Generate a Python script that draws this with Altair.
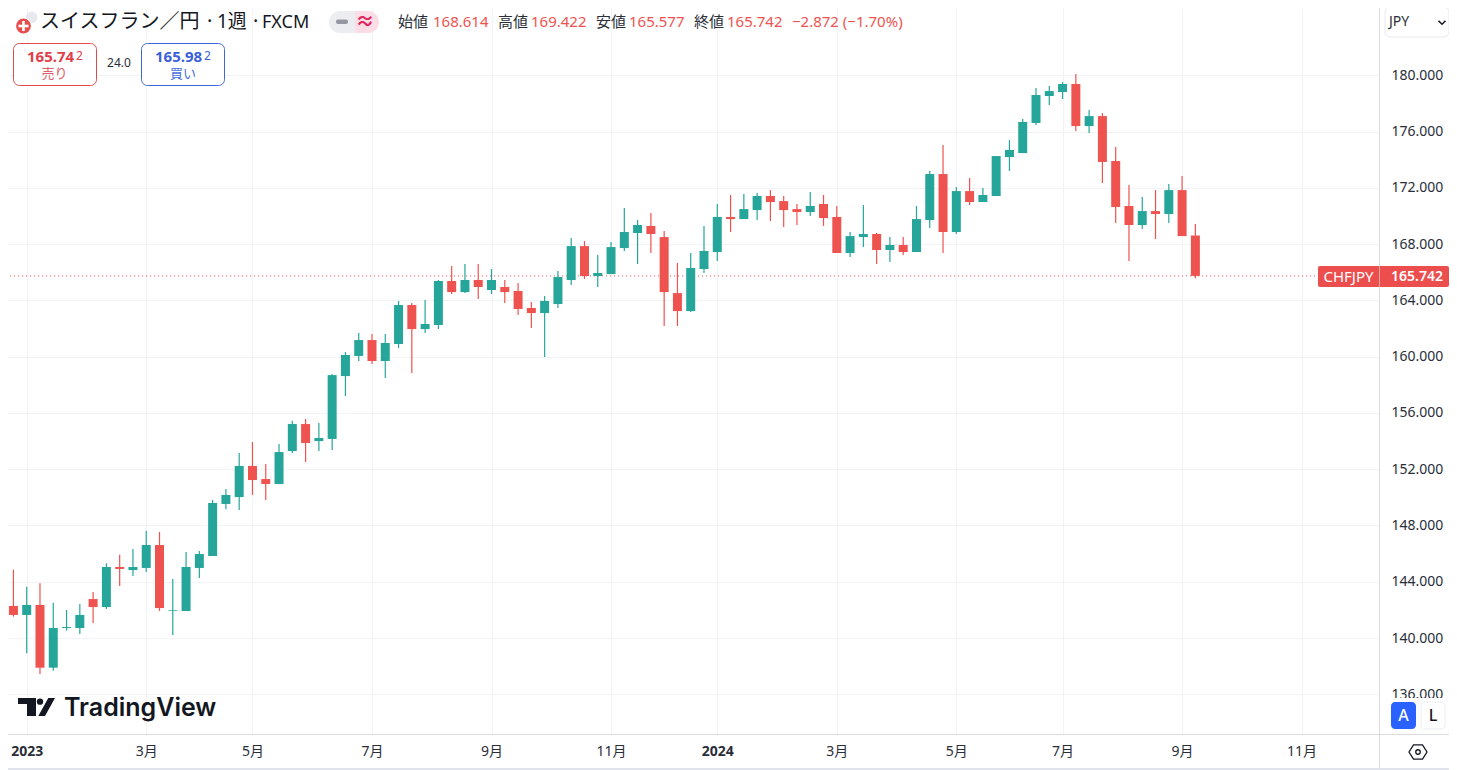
import altair as alt
import pandas as pd

opens = [145.55,142.28,141.64,142.35,137.89,140.71,140.71,142.77,142.20,145.05,144.83,144.98,146.61,141.94,141.92,144.98,145.83,149.53,150.02,152.23,151.30,150.95,153.29,155.21,154.00,154.15,158.62,160.05,161.18,159.69,160.90,163.67,161.96,162.25,165.38,164.59,165.45,164.74,164.95,164.67,163.46,163.10,163.74,165.45,167.86,165.73,165.87,167.72,168.79,169.29,168.50,164.52,163.24,166.23,167.44,169.93,169.78,170.42,171.42,171.06,170.49,170.28,170.85,169.93,167.37,168.50,168.72,167.58,167.94,167.44,169.71,172.98,168.86,171.77,170.99,171.42,174.19,174.47,176.61,178.53,178.81,179.38,176.39,177.10,173.91,170.71,169.36,170.35,170.14,171.84,168.614]
highs = [145.55,144.86,143.65,143.89,142.51,141.99,142.42,143.27,145.31,145.92,146.33,147.63,147.54,144.19,146.11,146.18,149.81,150.59,153.15,153.93,152.37,153.79,155.45,155.57,155.28,158.77,160.33,161.68,161.61,161.61,163.96,163.81,164.03,165.45,166.44,166.58,166.58,166.23,165.45,165.23,163.88,164.31,166.09,168.43,168.22,167.22,168.15,170.57,169.71,170.21,168.93,166.66,167.37,169.29,170.85,171.49,171.56,171.63,171.84,171.42,170.85,171.70,171.49,170.71,168.86,170.78,168.79,168.50,168.50,170.71,173.20,175.04,172.06,172.70,171.99,174.26,175.40,176.89,179.09,179.24,179.52,180.09,177.53,177.32,174.90,172.20,171.35,171.84,172.27,172.84,169.422]
lows = [142.20,141.52,138.91,137.44,137.68,140.52,140.28,141.07,142.06,143.70,144.41,144.69,141.92,140.21,141.92,144.27,145.83,149.15,149.10,150.17,149.81,150.95,153.15,152.51,153.29,153.36,157.20,159.69,159.48,158.48,160.61,158.84,161.68,161.96,164.45,164.52,164.10,164.45,163.81,162.96,162.04,159.97,163.46,165.09,165.52,164.95,165.87,167.51,166.58,167.37,162.18,162.18,163.17,165.95,166.80,168.86,169.78,169.71,169.64,169.21,169.36,170.00,169.29,167.37,167.08,167.79,166.58,166.73,167.22,167.44,169.14,167.37,168.72,170.78,170.99,171.42,173.20,174.47,176.46,177.89,178.31,176.04,175.90,172.34,169.50,166.80,169.07,168.36,169.50,168.57,165.577]
closes = [142.20,141.64,142.35,137.89,140.71,140.78,141.64,142.20,145.05,144.91,145.05,146.61,142.13,141.99,145.05,145.97,149.60,150.17,152.23,151.23,150.95,153.22,155.21,153.86,154.22,158.69,160.12,161.18,159.69,160.97,163.67,161.96,162.32,165.38,164.59,165.45,164.95,165.45,164.59,163.39,163.10,163.96,165.66,167.86,165.73,165.95,167.79,168.86,169.36,168.72,164.59,163.24,166.30,167.51,169.93,169.78,170.49,171.42,170.99,170.42,170.28,170.71,169.85,167.37,168.57,168.72,167.58,167.94,167.44,169.78,172.98,168.86,171.77,170.99,171.49,174.26,174.69,176.68,178.60,178.88,179.38,176.39,177.10,173.84,170.64,169.36,170.35,170.14,171.84,168.57,165.742]
dates = [d.strftime("%Y-%m-%dT00:00:00Z") for d in pd.date_range("2022-12-19", periods=len(opens), freq="7D")]
x_ticks = ["2023-01-02T00:00:00Z","2023-03-06T00:00:00Z","2023-05-01T00:00:00Z","2023-07-03T00:00:00Z","2023-09-04T00:00:00Z","2023-11-06T00:00:00Z","2024-01-01T00:00:00Z","2024-03-04T00:00:00Z","2024-05-06T00:00:00Z","2024-07-01T00:00:00Z","2024-09-02T00:00:00Z","2024-11-04T00:00:00Z"]
y_ticks = [136,140,144,148,152,156,160,164,168,172,176,180]

GREEN = "#26a69a"
RED = "#ef5350"
BLUE = "#2962ff"
GRID = "#f2f3f6"
LINE = "#d9dbe1"
INK = "#131722"
TXT = "#2a2e39"
FONT = "Noto Sans, Noto Sans CJK JP"
W, H = 1371, 726

df = pd.DataFrame({"date": dates, "open": opens, "high": highs, "low": lows, "close": closes})
df["dir"] = ["up" if c >= o else "down" for o, c in zip(opens, closes)]

xs = alt.Scale(type="utc", domain=["2022-12-23T03:22:00Z", "2024-12-14T19:00:00Z"], nice=False, padding=0)
ys = alt.Scale(domain=[133.177, 184.784], nice=False, zero=False)
cs = alt.Scale(domain=["up", "down"], range=[GREEN, RED])

x_axis = alt.Axis(
    values=x_ticks, title=None, orient="bottom", domain=False, ticks=False,
    grid=True, gridColor=GRID, gridWidth=1,
    labelExpr="utcmonth(datum.value)==0 ? utcyear(datum.value) : (utcmonth(datum.value)+1)+'月'",
    labelFont=FONT, labelFontSize=14, labelColor=TXT, labelPadding=10, labelAlign="center",
    labelFontWeight={"condition": {"test": "utcmonth(datum.value)==0", "value": 700}, "value": 400},
    labelOverlap=False, labelFlush=False,
)
y_axis = alt.Axis(
    values=y_ticks, title=None, orient="right", domain=False, ticks=False,
    grid=True, gridColor=GRID, gridWidth=1, format=".3f",
    labelFont=FONT, labelFontSize=14, labelColor=TXT, labelPadding=12,
    labelOverlap=False, labelFlush=False,
)

blank = alt.Data(values=[{}])

def px(x):
    return x - 8

def py(y):
    return y - 8

def text(s, x, y, size=14, color=TXT, align="left", weight=400, font=FONT):
    return alt.Chart(blank).mark_text(
        font=font, fontSize=size, color=color, align=align, baseline="middle", fontWeight=weight
    ).encode(x=alt.value(px(x)), y=alt.value(py(y)), text=alt.value(s))

def box(x0, x1, y0, y1, fill="white", stroke=None, radius=0, sw=1, **kw):
    args = dict(color=fill, cornerRadius=radius, strokeWidth=sw)
    if stroke:
        args["stroke"] = stroke
    args.update(kw)
    return alt.Chart(blank).mark_rect(**args).encode(
        x=alt.value(px(x0)), x2=alt.value(px(x1)), y=alt.value(py(y0)), y2=alt.value(py(y1))
    )

def sym(shape, x, y, size, fill=None, stroke=None, sw=1):
    args = dict(shape=shape, size=size, opacity=1)
    if fill:
        args.update(filled=True, fill=fill, strokeWidth=0)
    else:
        args.update(filled=False, stroke=stroke, strokeWidth=sw)
    return alt.Chart(blank).mark_point(**args).encode(x=alt.value(px(x)), y=alt.value(py(y)))

base = alt.Chart(df)
price_line = alt.Chart(alt.Data(values=[{"last": closes[-1]}])).mark_rule(
    color=RED, strokeDash=[1, 3], strokeWidth=1, clip=True
).encode(y=alt.Y("last:Q", scale=ys, axis=y_axis))

wicks = base.mark_rule(strokeWidth=1.2, clip=True).encode(
    x=alt.X("date:T", scale=xs, axis=x_axis),
    y=alt.Y("low:Q", scale=ys, axis=y_axis),
    y2="high:Q",
    color=alt.Color("dir:N", scale=cs, legend=None),
)
bodies = base.mark_bar(size=9, clip=True, strokeWidth=0).encode(
    x=alt.X("date:T", scale=xs, axis=x_axis),
    y=alt.Y("open:Q", scale=ys, axis=y_axis),
    y2="close:Q",
    color=alt.Color("dir:N", scale=cs, legend=None),
)

logo = "M-0.925,-0.45L-0.025,-0.45L-0.025,0.45L-0.475,0.45L-0.475,-0.15L-0.925,-0.15ZM0.59,-0.45L0.925,-0.45L0.425,0.45L0.09,0.45Z"
chevron = "M-1,-0.5L0,0.5L1,-0.5"
hexagon = "M-1,0L-0.5,-0.8L0.5,-0.8L1,0L0.5,0.8L-0.5,0.8Z"

chrome = [
    # frame
    box(1380, 1449, 698, 733),
    box(8, 1449, 768, 770, fill="#e0e3eb"),
    box(1379, 1380, 8, 768, fill=LINE),
    box(8, 1449, 734, 735, fill=LINE),
    # header icon
    sym("circle", 31.5, 17.5, 140, fill="#e8e9ee"),
    sym("circle", 23.5, 26, 300, fill="white"),
    sym("circle", 23.5, 26, 220, fill="#e5504f"),
    box(18.5, 28.5, 24.7, 27.3),
    box(22.2, 24.8, 21, 31),
    # title
    text("スイスフラン／円", 40, 22, 20, INK),
    text("·", 207, 22, 20, INK),
    text("1週", 217, 22, 19, INK),
    text("·", 253, 22, 20, INK),
    text("FXCM", 262, 23, 18, INK),
    # pill
    box(329, 355, 11, 33, fill="#ecedf1", cornerRadiusTopLeft=11, cornerRadiusBottomLeft=11, cornerRadius=0),
    box(355, 379, 11, 33, fill="#fbdde6", cornerRadiusTopRight=11, cornerRadiusBottomRight=11, cornerRadius=0),
    box(336, 348, 19.5, 24, fill="#9598a1", radius=2),
    text("≈", 365, 22, 19, "#e0245e", "center", 700),
    # OHLC
    text("始値", 398, 22, 15), text("168.614", 433, 22, 15, RED),
    text("高値", 498, 22, 15), text("169.422", 531, 22, 15, RED),
    text("安値", 596, 22, 15), text("165.577", 629, 22, 15, RED),
    text("終値", 694, 22, 15), text("165.742", 727, 22, 15, RED),
    text("−2.872 (−1.70%)", 792, 22, 15, RED),
    # order buttons
    box(13.5, 96.5, 43.5, 85.5, stroke="#e0494d", radius=6),
    text("165.74", 27, 57, 15, "#e0404a", "left", 700),
    text("2", 76, 55.5, 12, "#e0404a"),
    text("売り", 54.5, 74, 13, "#e0606a", "center"),
    text("24.0", 119, 63, 12, TXT, "center"),
    box(141.5, 224.5, 43.5, 85.5, stroke="#3f66d6", radius=6),
    text("165.98", 155, 57, 15, "#3a5fd9", "left", 700),
    text("2", 204, 55.5, 12, "#3a5fd9"),
    text("買い", 183, 74, 13, "#4a6fe0", "center"),
    # currency box
    box(1385, 1449, 7, 37, stroke="#e8e9ed", radius=5),
    text("JPY", 1389, 22, 14, TXT),
    sym(chevron, 1442, 22.5, 49, stroke=INK, sw=1.5),
    # last price tag
    box(1318, 1449, 266, 287, fill="#ec4e4e", radius=2),
    box(1379, 1380, 266, 287, fill="#f4a7a4"),
    text("CHFJPY", 1348.5, 276.5, 15, "white", "center"),
    text("165.742", 1417, 276.5, 14, "white", "center", 600),
    # watermark
    sym(logo, 36.5, 707, 1600, fill=INK),
    sym("circle", 40, 701.7, 40, fill=INK),
    text("TradingView", 64, 708, 25, INK, "left", 600, "Inter"),
    # scale buttons
    box(1391, 1416, 702, 729, fill=BLUE, radius=4),
    text("A", 1403.5, 715.5, 16, "white", "center", 500),
    box(1421, 1445, 702, 729, stroke="#eceef1", radius=4),
    text("L", 1433, 715.5, 16, INK, "center", 500),
    # settings
    sym(hexagon, 1418, 752, 324, stroke=INK, sw=1.3),
    sym("circle", 1418, 752, 20, stroke=INK, sw=1.3),
]

chart = alt.layer(price_line, wicks, bodies, *chrome).properties(
    width=W,
    height=H,
    autosize=alt.AutoSizeParams(type="none"),
    padding={"left": 0, "top": 0, "right": 70, "bottom": 36},
    background="white",
).configure_view(stroke=None)

chart.save("out.html", embed_options={"renderer": "svg", "actions": False})
